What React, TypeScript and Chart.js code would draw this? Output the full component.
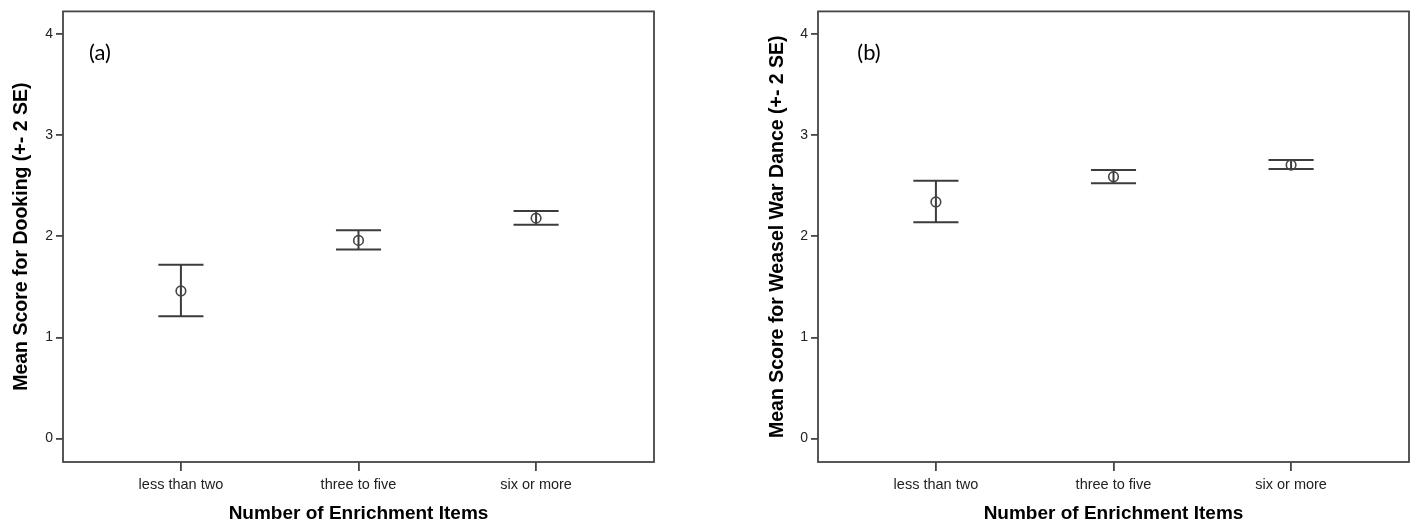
import React, { useEffect, useRef } from "react";
import { Chart, registerables } from "chart.js";

Chart.register(...registerables);

// ---- Data ----
const categories = ["less than two", "three to five", "six or more"];
const yTicks = [0, 1, 2, 3, 4];

const dookingMean = [1.46, 1.96, 2.18];
const dookingLower = [1.21, 1.87, 2.115];
const dookingUpper = [1.72, 2.06, 2.25];

const warDanceMean = [2.34, 2.59, 2.705];
const warDanceLower = [2.14, 2.525, 2.665];
const warDanceUpper = [2.55, 2.655, 2.755];

const xTitle = "Number of Enrichment Items";
const yTitleA = "Mean Score for Dooking (+- 2 SE)";
const yTitleB = "Mean Score for Weasel War Dance (+- 2 SE)";

const FONT = "'Liberation Sans', Arial, sans-serif";
const INK = "#454545";

const errorBarPlugin = {
  id: "errorBars",
  beforeDatasetsDraw(chart: any, _args: any, opts: any) {
    const { ctx } = chart;
    const x = chart.scales.x;
    const y = chart.scales.y;
    ctx.save();
    ctx.strokeStyle = opts.color;
    ctx.lineWidth = opts.lineWidth;
    (opts.lower as number[]).forEach((lo: number, i: number) => {
      const xv = i + 1;
      const px = x.getPixelForValue(xv);
      const xl = x.getPixelForValue(xv - opts.capHalf);
      const xr = x.getPixelForValue(xv + opts.capHalf);
      const pl = y.getPixelForValue(lo);
      const pu = y.getPixelForValue(opts.upper[i]);
      ctx.beginPath();
      ctx.moveTo(px, pu);
      ctx.lineTo(px, pl);
      ctx.moveTo(xl, pu);
      ctx.lineTo(xr, pu);
      ctx.moveTo(xl, pl);
      ctx.lineTo(xr, pl);
      ctx.stroke();
    });
    ctx.restore();
  },
};

const framePlugin = {
  id: "frame",
  afterDraw(chart: any, _args: any, opts: any) {
    const { ctx, chartArea } = chart;
    ctx.save();
    ctx.strokeStyle = INK;
    ctx.lineWidth = 1.8;
    ctx.strokeRect(
      chartArea.left,
      chartArea.top,
      chartArea.right - chartArea.left,
      chartArea.bottom - chartArea.top
    );
    ctx.fillStyle = "#000";
    ctx.font = "22px Lato, 'Noto Sans', sans-serif";
    ctx.textAlign = "center";
    ctx.textBaseline = "middle";
    ctx.fillText(opts.label, chartArea.left + opts.dx, chartArea.top + opts.dy);
    ctx.restore();
  },
};

function makeConfig(p: {
  mean: number[];
  lower: number[];
  upper: number[];
  yTitle: string;
  yAxisWidth: number;
  yTitlePad: number;
  padRight: number;
  label: string;
  labelDx: number;
}): any {
  return {
    type: "scatter",
    data: {
      datasets: [
        {
          data: p.mean.map((m, i) => ({ x: i + 1, y: m })),
          pointRadius: 4.8,
          pointBorderWidth: 1.6,
          pointBorderColor: INK,
          pointBackgroundColor: "rgba(0,0,0,0)",
          showLine: false,
        },
      ],
    },
    options: {
      animation: false,
      responsive: false,
      events: [],
      layout: { padding: { left: 0, right: p.padRight, top: 10, bottom: 0 } },
      plugins: {
        legend: { display: false },
        tooltip: { enabled: false },
        errorBars: { lower: p.lower, upper: p.upper, capHalf: 0.127, color: "#3c3c3c", lineWidth: 2 },
        frame: { label: p.label, dx: p.labelDx, dy: 42 },
      },
      scales: {
        x: {
          type: "linear",
          position: "bottom",
          min: 1 - 0.664,
          max: 3 + 0.664,
          afterBuildTicks: (s: any) => {
            s.ticks = categories.map((_, i) => ({ value: i + 1 }));
          },
          afterFit: (s: any) => {
            s.height = 63;
          },
          border: { display: false },
          grid: {
            display: true,
            drawOnChartArea: false,
            drawTicks: true,
            tickLength: 9,
            color: INK,
            lineWidth: 1.8,
          },
          ticks: {
            autoSkip: false,
            maxRotation: 0,
            padding: 5,
            color: "#222",
            font: { family: FONT, size: 14.5 },
            callback: (v: any) => categories[Math.round(v) - 1],
          },
          title: {
            display: true,
            text: xTitle,
            color: "#000",
            font: { family: FONT, size: 19, weight: "bold" },
            padding: { top: 0, bottom: 0 },
          },
        },
        y: {
          type: "linear",
          min: -0.231,
          max: 4.224,
          afterBuildTicks: (s: any) => {
            s.ticks = yTicks.map((v) => ({ value: v }));
          },
          afterFit: (s: any) => {
            s.width = p.yAxisWidth;
          },
          border: { display: false },
          grid: {
            display: true,
            drawOnChartArea: false,
            drawTicks: true,
            tickLength: 7,
            color: INK,
            lineWidth: 1.8,
          },
          ticks: {
            padding: 3,
            color: "#222",
            font: { family: FONT, size: 14 },
            callback: (v: any) => String(v),
          },
          title: {
            display: true,
            text: p.yTitle,
            color: "#000",
            font: { family: FONT, size: 19.5, weight: "bold" },
            padding: { top: p.yTitlePad, bottom: 0 },
          },
        },
      },
    },
    plugins: [errorBarPlugin, framePlugin],
  };
}

function Panel(props: { left: number; width: number; cfg: any }) {
  const ref = useRef<HTMLCanvasElement | null>(null);
  useEffect(() => {
    if (!ref.current) return;
    const chart = new Chart(ref.current, props.cfg);
    return () => chart.destroy();
  }, []);
  return (
    <canvas
      ref={ref}
      width={props.width}
      height={525}
      style={{ position: "absolute", left: props.left, top: 0, width: props.width, height: 525 }}
    />
  );
}

export default function App() {
  const cfgA = makeConfig({
    mean: dookingMean,
    lower: dookingLower,
    upper: dookingUpper,
    yTitle: yTitleA,
    yAxisWidth: 63,
    yTitlePad: 10,
    padRight: 46,
    label: "(a)",
    labelDx: 37,
  });
  const cfgB = makeConfig({
    mean: warDanceMean,
    lower: warDanceLower,
    upper: warDanceUpper,
    yTitle: yTitleB,
    yAxisWidth: 118,
    yTitlePad: 66,
    padRight: 9,
    label: "(b)",
    labelDx: 51,
  });
  return (
    <div
      style={{
        position: "absolute",
        left: 0,
        top: 0,
        width: 1418,
        height: 525,
        background: "#fff",
        overflow: "hidden",
      }}
    >
      <Panel left={0} width={700} cfg={cfgA} />
      <Panel left={700} width={718} cfg={cfgB} />
    </div>
  );
}
